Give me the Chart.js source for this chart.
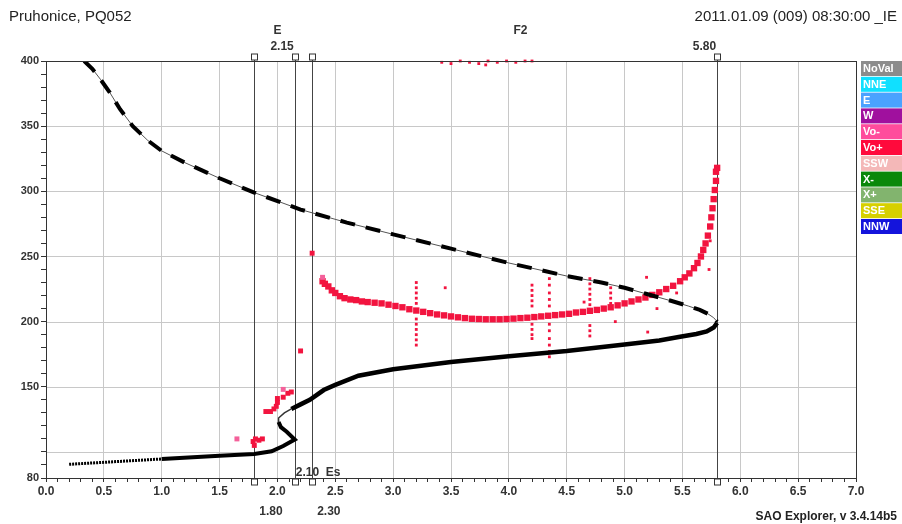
<!DOCTYPE html>
<html lang="en">
<head>
<meta charset="UTF-8">
<title>Pruhonice, PQ052 ionogram</title>
<script src="https://cdn.jsdelivr.net/npm/chart.js"></script>
<style>
    html, body { margin: 0; padding: 0; background: #fff; }
    .chart-box { position: relative; width: 902px; height: 524px; }
</style>
</head>
<body>
<div class="chart-box"><canvas id="ionogram"></canvas></div>
<script>
// axis ticks
const freqLabelStep = 0.5;
const heightLabels = [80, 150, 200, 250, 300, 350, 400];
const heightGrid = [100, 150, 200, 250, 300, 350];

// model profile (dashed)
const modelFreq   = [0.33, 0.40, 0.47, 0.55, 0.64, 0.75, 0.88, 1.00, 1.20, 1.50, 1.80, 2.20, 2.60, 3.00, 3.50, 4.00, 4.50, 4.80, 5.00, 5.20, 5.40, 5.55, 5.65, 5.72, 5.77, 5.80];
const modelHeight = [400, 394, 386, 376, 363, 350, 339, 331, 322, 310, 299, 286, 276, 267, 256, 245, 235, 230, 226, 221, 216, 212, 209, 206, 203, 200];

// true height profile (solid)
const profDotted = [[0.20, 90.5], [1.00, 94.6]];
const profLower  = [[1.00, 94.6], [1.50, 97.0], [1.80, 98.5], [1.95, 100.5], [2.05, 104.5], [2.15, 109.5], [2.08, 115.5], [2.03, 119], [2.01, 123]];
const profThin   = [[2.01, 123], [2.01, 126], [2.06, 130], [2.12, 133]];
const profUpper  = [[2.12, 133], [2.20, 136.5], [2.28, 140], [2.40, 147.5], [2.50, 151.5], [2.70, 158.5], [3.00, 163.5], [3.50, 169], [4.00, 173.5], [4.50, 177.5], [5.00, 182.5], [5.30, 185.5], [5.48, 188.4], [5.62, 190.5], [5.71, 192.5], [5.77, 195.5], [5.80, 199]];

// echo traces (Vo+)
const f2Trace = [
    [2.39, 231], [2.41, 229], [2.44, 227], [2.47, 224], [2.50, 222], [2.54, 219.5], [2.58, 218], [2.63, 217],
    [2.68, 216.5], [2.73, 215.5], [2.78, 215], [2.84, 214.5], [2.90, 214], [2.96, 213], [3.02, 212], [3.08, 211],
    [3.14, 209.5], [3.20, 208.5], [3.26, 207.5], [3.32, 206.5], [3.38, 205.5], [3.44, 204.8], [3.50, 204], [3.56, 203.3],
    [3.62, 202.7], [3.68, 202.2], [3.74, 202], [3.80, 201.8], [3.86, 201.8], [3.92, 201.8], [3.98, 202], [4.04, 202.3],
    [4.10, 202.7], [4.16, 203], [4.22, 203.5], [4.28, 204], [4.34, 204.5], [4.40, 205], [4.46, 205.5], [4.52, 206],
    [4.58, 207], [4.64, 207.5], [4.70, 208.3], [4.76, 209], [4.82, 210], [4.88, 211], [4.94, 212.5], [5.00, 214],
    [5.06, 215.5], [5.12, 217], [5.18, 218.5], [5.24, 220.5], [5.30, 222.5], [5.36, 225], [5.42, 227.5], [5.48, 231],
    [5.52, 234], [5.56, 237], [5.60, 241], [5.63, 245], [5.66, 250], [5.68, 255], [5.70, 260], [5.72, 266],
    [5.74, 273], [5.75, 280], [5.76, 287], [5.77, 294], [5.78, 301], [5.79, 308], [5.79, 315], [5.80, 318]
];
const scatterEchoes = [
    [3.20, 230], [3.20, 226], [3.20, 222], [3.20, 218], [3.20, 214], [3.20, 202], [3.20, 198], [3.20, 194], [3.20, 190], [3.20, 186], [3.20, 182],
    [4.20, 228], [4.20, 224], [4.20, 220], [4.20, 216], [4.20, 212], [4.20, 198], [4.20, 194], [4.20, 190], [4.20, 187],
    [4.35, 233], [4.35, 228], [4.35, 222], [4.35, 217], [4.35, 212], [4.35, 198], [4.35, 193], [4.35, 187], [4.35, 182], [4.35, 177], [4.35, 173],
    [4.70, 233], [4.70, 229], [4.70, 225], [4.70, 221], [4.70, 217], [4.70, 213], [4.70, 197], [4.70, 193], [4.70, 189],
    [4.88, 226], [4.88, 222], [4.88, 218], [4.88, 214], [3.45, 226], [5.19, 234], [5.20, 192], [5.28, 210],
    [4.65, 215], [4.92, 200], [5.73, 240], [5.74, 262], [5.45, 222]
];
const esEchoes = [
    [1.79, 108], [1.81, 110], [1.84, 109], [1.87, 110], [1.80, 105], [1.90, 131], [1.94, 131], [1.97, 133],
    [1.99, 135], [2.00, 138], [2.00, 141], [2.05, 142], [2.09, 145], [2.12, 146], [2.20, 177.5], [2.30, 252.5]
];
const topFringe = [
    [3.42, 399], [3.50, 398], [3.58, 400], [3.66, 399], [3.74, 398], [3.80, 397], [3.82, 400], [3.90, 399],
    [3.98, 400], [4.06, 399], [4.14, 400], [4.20, 400]
];
// echo traces (Vo-)
const pinkEchoes = [[1.65, 110], [2.05, 148], [2.39, 234]];

// scaled parameters
const markerFreqs = [1.80, 2.15, 2.30, 5.80];

// legend
const legendNames  = ['NoVal', 'NNE', 'E', 'W', 'Vo-', 'Vo+', 'SSW', 'X-', 'X+', 'SSE', 'NNW'];
const legendColors = ['#8c8c8c', '#10e0ff', '#4aa2ff', '#a0109e', '#ff4c9c', '#ff0a3c', '#f4b8b8', '#0a880a', '#82b46e', '#d6d000', '#1414dc'];

const toXY = arr => arr.map(p => ({ x: p[0], y: p[1] }));
const FONT = '"Liberation Sans", Arial, sans-serif';

const ionogramDecor = {
    id: 'ionogramDecor',
    beforeDraw(chart) {
        const ctx = chart.ctx;
        ctx.save();
        ctx.fillStyle = '#fff';
        ctx.fillRect(0, 0, chart.width, chart.height);
        ctx.restore();
    },
    beforeDatasetsDraw(chart) {
        const ctx = chart.ctx;
        const xs = chart.scales.x;
        const ys = chart.scales.y;
        const a = chart.chartArea;
        ctx.save();
        // horizontal grid
        ctx.strokeStyle = '#c8c8c8';
        ctx.lineWidth = 1;
        heightGrid.forEach(h => {
            const py = Math.round(ys.getPixelForValue(h)) + 0.5;
            ctx.beginPath();
            ctx.moveTo(a.left, py);
            ctx.lineTo(a.right, py);
            ctx.stroke();
        });
        // scaled parameter lines
        ctx.strokeStyle = '#444';
        markerFreqs.forEach(f => {
            const px = Math.round(xs.getPixelForValue(f)) + 0.5;
            ctx.beginPath();
            ctx.moveTo(px, a.top - 2);
            ctx.lineTo(px, a.bottom + 2);
            ctx.stroke();
        });
        ctx.restore();
    },
    afterDraw(chart) {
        const ctx = chart.ctx;
        const xs = chart.scales.x;
        const a = chart.chartArea;
        ctx.save();

        // plot frame
        ctx.strokeStyle = '#333';
        ctx.lineWidth = 1;
        ctx.strokeRect(a.left + 0.5, a.top + 0.5, a.right - a.left, a.bottom - a.top);

        // marker squares
        markerFreqs.forEach(f => {
            const px = Math.round(xs.getPixelForValue(f)) + 0.5;
            [a.top - 4, a.bottom + 4].forEach(cy => {
                ctx.fillStyle = '#fff';
                ctx.fillRect(px - 3, cy - 3, 6, 6);
                ctx.strokeRect(px - 3, cy - 3, 6, 6);
            });
        });

        // titles
        ctx.fillStyle = '#222';
        ctx.textBaseline = 'middle';
        ctx.font = '15px ' + FONT;
        ctx.textAlign = 'left';
        ctx.fillText('Pruhonice, PQ052', 9, 17);
        ctx.textAlign = 'right';
        ctx.fillText('2011.01.09 (009) 08:30:00 _IE', 897, 17);
        ctx.font = 'bold 12px ' + FONT;
        ctx.fillText('SAO Explorer, v 3.4.14b5', 897, 517);

        // parameter labels
        ctx.fillStyle = '#333';
        ctx.font = 'bold 12px ' + FONT;
        ctx.textAlign = 'center';
        ctx.fillText('E', xs.getPixelForValue(2.0), 31);
        ctx.fillText('F2', xs.getPixelForValue(4.1), 31);
        ctx.textAlign = 'right';
        ctx.fillText('2.15', xs.getPixelForValue(2.15) - 1, 47);
        ctx.fillText('5.80', xs.getPixelForValue(5.80) - 1, 47);
        ctx.textAlign = 'left';
        ctx.fillText('1.80', xs.getPixelForValue(1.80) + 5, 512);
        ctx.fillText('2.30', xs.getPixelForValue(2.30) + 5, 512);
        ctx.fillText('2.10  Es', xs.getPixelForValue(2.15) + 1, 473);

        // legend boxes
        ctx.font = 'bold 11px ' + FONT;
        legendNames.forEach((name, i) => {
            const y = 61 + i * 15.8;
            ctx.fillStyle = legendColors[i];
            ctx.fillRect(861, y, 41, 15);
            ctx.fillStyle = '#fff';
            ctx.fillText(name, 863, y + 8);
        });
        ctx.restore();
    }
};

const ctx = document.getElementById('ionogram').getContext('2d');
const ionogram = new Chart(ctx, {
    type: 'scatter',
    data: {
        datasets: [
            {
                label: 'model dashes',
                data: modelFreq.map((f, i) => ({ x: f, y: modelHeight[i] })),
                showLine: true, borderColor: '#000', borderWidth: 4, borderDash: [15, 11],
                pointRadius: 0, order: 1
            },
            {
                label: 'model',
                data: modelFreq.map((f, i) => ({ x: f, y: modelHeight[i] })),
                showLine: true, borderColor: '#555', borderWidth: 1,
                pointRadius: 0, order: 2
            },
            {
                label: 'profile dotted',
                data: toXY(profDotted),
                showLine: true, borderColor: '#000', borderWidth: 3, borderDash: [2, 1],
                pointRadius: 0, order: 3
            },
            {
                label: 'profile lower',
                data: toXY(profLower),
                showLine: true, borderColor: '#000', borderWidth: 4,
                pointRadius: 0, order: 3
            },
            {
                label: 'profile thin',
                data: toXY(profThin),
                showLine: true, borderColor: '#333', borderWidth: 1.5,
                pointRadius: 0, order: 3
            },
            {
                label: 'profile upper',
                data: toXY(profUpper),
                showLine: true, borderColor: '#000', borderWidth: 4.5,
                pointRadius: 0, order: 3
            },
            {
                label: 'F2 trace',
                data: toXY(f2Trace),
                pointStyle: 'rect', pointRadius: 4.5, borderWidth: 0,
                backgroundColor: '#f2143f', order: 5
            },
            {
                label: 'scattered',
                data: toXY(scatterEchoes),
                pointStyle: 'rect', pointRadius: 2, borderWidth: 0,
                backgroundColor: '#f2143f', order: 6
            },
            {
                label: 'Es',
                data: toXY(esEchoes),
                pointStyle: 'rect', pointRadius: 3.5, borderWidth: 0,
                backgroundColor: '#f2143f', order: 5
            },
            {
                label: 'top',
                data: toXY(topFringe),
                pointStyle: 'rect', pointRadius: 2, borderWidth: 0, clip: 6,
                backgroundColor: '#f2143f', order: 6
            },
            {
                label: 'Vo-',
                data: toXY(pinkEchoes),
                pointStyle: 'rect', pointRadius: 3.5, borderWidth: 0,
                backgroundColor: '#f4609a', order: 4
            }
        ]
    },
    options: {
        responsive: true,
        maintainAspectRatio: false,
        animation: false,
        events: [],
        layout: { padding: { top: 61, right: 46, left: 0, bottom: 0 } },
        plugins: { legend: { display: false }, tooltip: { enabled: false } },
        scales: {
            x: {
                type: 'linear', min: 0, max: 7,
                afterFit: s => { s.height = 46; },
                border: { display: true, color: '#333' },
                grid: {
                    color: c => Math.round(c.tick.value * 10) % 5 === 0 ? '#c8c8c8' : 'rgba(0,0,0,0)',
                    tickColor: '#333', tickLength: 4, drawTicks: true
                },
                ticks: {
                    stepSize: 0.1, autoSkip: false, maxRotation: 0, padding: 2,
                    color: '#333', font: { family: FONT, size: 12, weight: 'bold' },
                    callback: v => Math.round(v * 10) % (freqLabelStep * 10) === 0 ? Number(v).toFixed(1) : ''
                }
            },
            y: {
                type: 'linear', min: 80, max: 400,
                afterFit: s => { s.width = 46; },
                border: { display: true, color: '#333' },
                grid: {
                    drawOnChartArea: false,
                    tickColor: '#333', tickLength: 5, drawTicks: true
                },
                ticks: {
                    stepSize: 10, autoSkip: false, padding: 2,
                    color: '#333', font: { family: FONT, size: 11, weight: 'bold' },
                    callback: v => heightLabels.includes(v) ? String(v) : ''
                }
            }
        }
    },
    plugins: [ionogramDecor]
});
</script>
</body>
</html>
